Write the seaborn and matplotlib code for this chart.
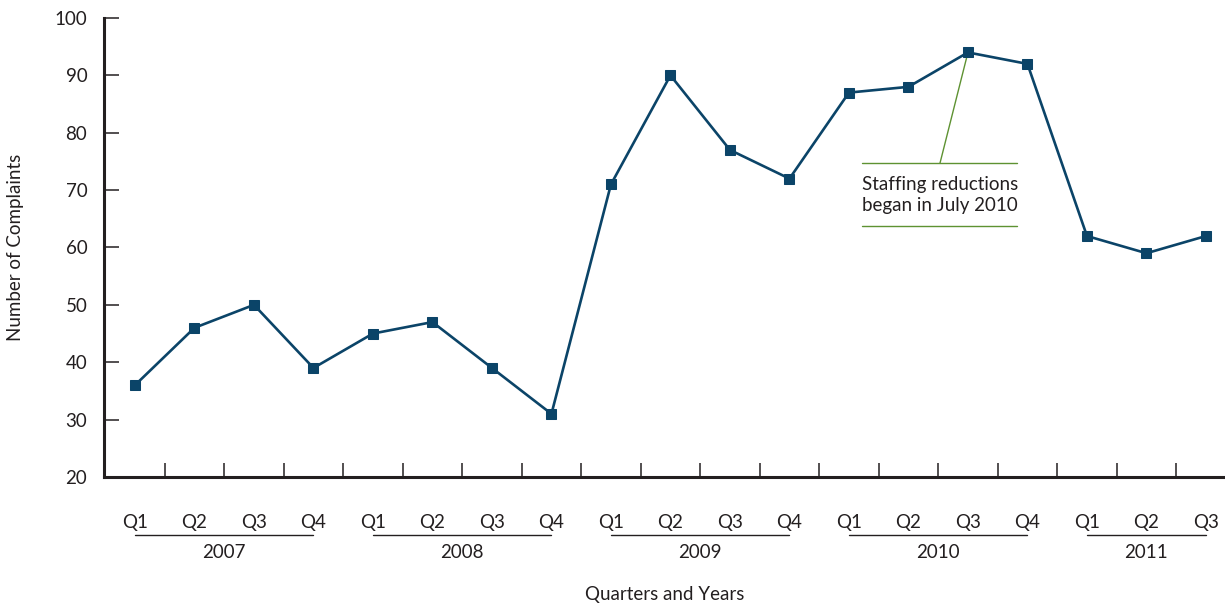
import matplotlib
matplotlib.use("Agg")
import matplotlib.pyplot as plt
import matplotlib.transforms as mtransforms
import seaborn as sns
import pandas as pd

# =========================================================
# DATA
# =========================================================
years    = ["2007", "2007", "2007", "2007",
            "2008", "2008", "2008", "2008",
            "2009", "2009", "2009", "2009",
            "2010", "2010", "2010", "2010",
            "2011", "2011", "2011"]
quarters = ["Q1", "Q2", "Q3", "Q4"] * 4 + ["Q1", "Q2", "Q3"]
complaints = [36, 46, 50, 39, 45, 47, 39, 31, 71, 90, 77, 72,
              87, 88, 94, 92, 62, 59, 62]

note_text = "Staffing reductions\nbegan in July 2010"
note_index = 14  # Q3 2010

df = pd.DataFrame({"year": years, "quarter": quarters, "complaints": complaints})
df["pos"] = range(len(df))

# =========================================================
# STYLE
# =========================================================
sns.set_theme(style="white")
plt.rcParams["font.family"] = ["Lato", "DejaVu Sans"]
TEXT = "#231f20"
LINE = "#0b4468"
GREEN = "#5e9232"

fig = plt.figure(figsize=(12.25, 6.06), dpi=100)
ax = fig.add_axes([0.0849, 0.2129, 0.9151, 0.7574])

sns.lineplot(data=df, x="pos", y="complaints", ax=ax, color=LINE,
             linewidth=1.9, marker="s", markersize=6.5,
             markeredgecolor=LINE, markerfacecolor=LINE)

ax.set_xlim(-0.52, 18.32)
ax.set_ylim(20, 100)

# spines
for s in ["top", "right"]:
    ax.spines[s].set_visible(False)
for s in ["left", "bottom"]:
    ax.spines[s].set_color(TEXT)
    ax.spines[s].set_linewidth(2.2)

# y ticks
ax.set_yticks(range(20, 101, 10))
ax.tick_params(axis="y", direction="in", length=11, width=1.1, color=TEXT,
               pad=12, labelsize=13.5, labelcolor=TEXT, left=True)

# x ticks: quarter labels at points, tick marks between points
ax.set_xticks(df["pos"])
ax.set_xticklabels(df["quarter"])
ax.set_xticks([p + 0.5 for p in df["pos"][:-1]], minor=True)
ax.tick_params(axis="x", which="major", length=0, pad=27,
               labelsize=13.5, labelcolor=TEXT)
ax.tick_params(axis="x", which="minor", direction="in", length=10,
               width=1.1, color=TEXT, bottom=True)

# year groups
trans = mtransforms.blended_transform_factory(ax.transData, ax.transAxes)
for yr, grp in df.groupby("year"):
    x0, x1 = grp["pos"].min(), grp["pos"].max()
    ax.plot([x0, x1], [-0.126, -0.126], transform=trans, color=TEXT,
            linewidth=1.0, clip_on=False)
    ax.text((x0 + x1) / 2, -0.165, yr, transform=trans, ha="center",
            va="center", fontsize=13.5, color=TEXT)

ax.set_xlabel("")
ax.text(0.5, -0.257, "Quarters and Years", transform=ax.transAxes,
        ha="center", va="center", fontsize=13.5, color=TEXT)
ax.set_ylabel("Number of Complaints", fontsize=13.5, color=TEXT, labelpad=22)

# annotation
ax.plot([12.22, 14.82], [74.7, 74.7], color=GREEN, linewidth=1.0)
ax.plot([12.22, 14.82], [63.7, 63.7], color=GREEN, linewidth=1.0)
ax.plot([13.53, note_index], [74.7, complaints[note_index]],
        color=GREEN, linewidth=1.0, zorder=1)
ax.text(12.22, 69.2, note_text, ha="left", va="center", fontsize=13.5,
        color=TEXT, linespacing=1.3)

fig.savefig("out.png", dpi=100)
